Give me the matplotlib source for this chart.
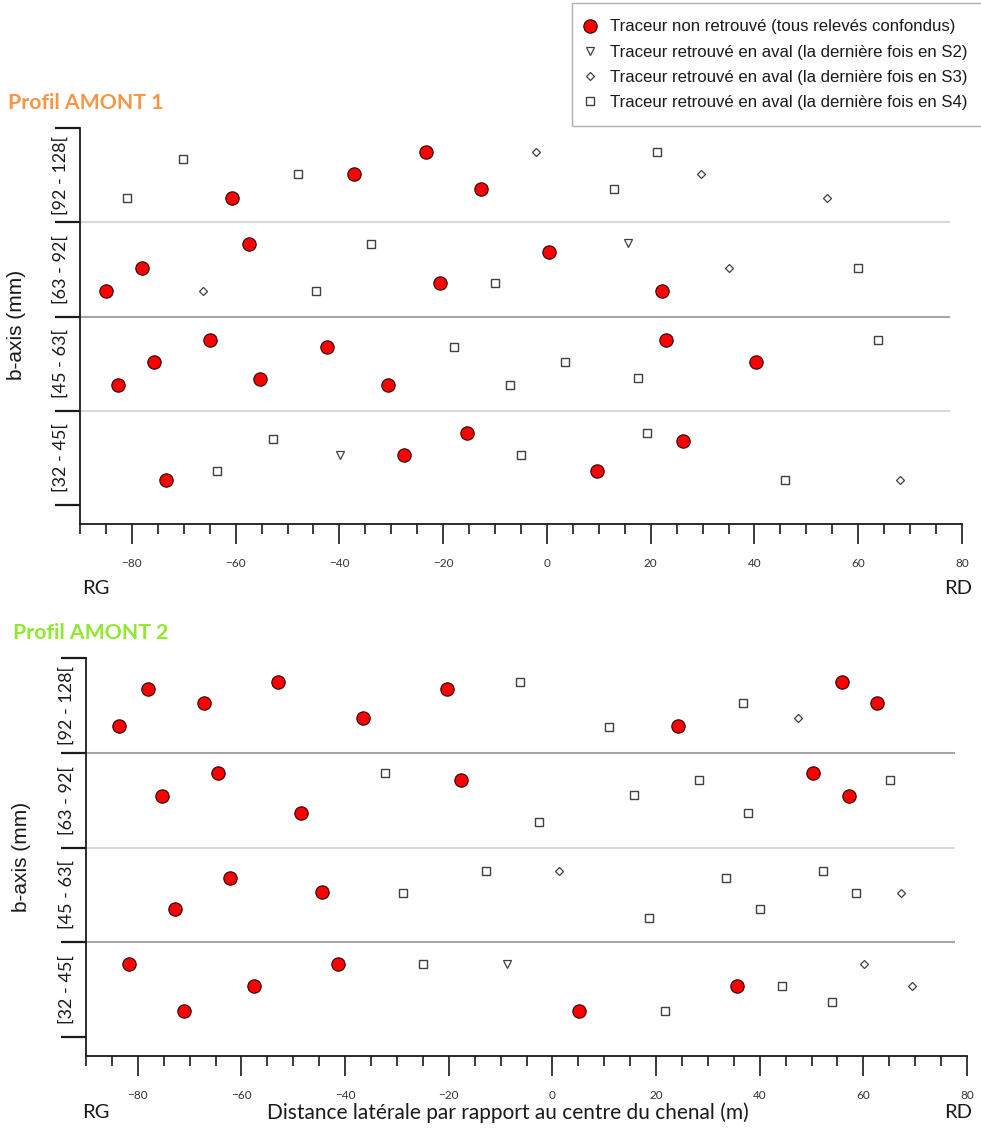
import matplotlib
matplotlib.use("Agg")
import matplotlib.pyplot as plt
from matplotlib.lines import Line2D
from matplotlib.ticker import MultipleLocator, FixedLocator, NullFormatter, FixedFormatter

# ---------------- data ----------------
classes = ["[32 - 45[", "[45 - 63[", "[63 - 92[", "[92 - 128["]
legend_labels = [
    "Traceur non retrouvé (tous relevés confondus)",
    "Traceur retrouvé en aval (la dernière fois en S2)",
    "Traceur retrouvé en aval (la dernière fois en S3)",
    "Traceur retrouvé en aval (la dernière fois en S4)",
]
x_major_ticks = [-80, -60, -40, -20, 0, 20, 40, 60, 80]

# y = class index + relative position inside the class band
# ---- Profil AMONT 1 ----
a1_red_x = [-60.7, -37.2, -23.3, -12.7, -57.4, -78.1, -85.0, 0.4, -20.6, 22.2,
            -65.0, -75.8, -82.7, -55.3, -42.4, -30.7, 22.9, 40.3,
            -73.4, -27.6, -15.4, 9.6, 26.2]
a1_red_y = [3.26, 3.51, 3.75, 3.35, 2.77, 2.52, 2.27, 2.69, 2.36, 2.27,
            1.75, 1.52, 1.27, 1.34, 1.68, 1.27, 1.75, 1.52,
            0.27, 0.53, 0.76, 0.36, 0.68]
a1_s2_x = [15.6, -39.9]
a1_s2_y = [2.78, 0.53]
a1_s3_x = [-2.1, 29.7, 54.0, -66.3, 35.1, 68.0]
a1_s3_y = [3.75, 3.51, 3.26, 2.27, 2.52, 0.27]
a1_s4_x = [-70.2, -81.0, -48.0, 21.2, 12.9, -33.9, -44.5, -10.0, 60.0,
           -17.9, 3.5, -7.1, 17.5, 63.8, -52.8, -63.6, -5.0, 19.3, 45.9]
a1_s4_y = [3.67, 3.26, 3.51, 3.75, 3.35, 2.77, 2.27, 2.36, 2.52,
           1.68, 1.52, 1.27, 1.35, 1.75, 0.70, 0.36, 0.53, 0.76, 0.27]

# ---- Profil AMONT 2 ----
a2_red_x = [-83.7, -78.1, -67.2, -52.9, -36.5, -20.3, 24.2, 55.8, 62.6,
            -75.4, -64.5, -48.5, -17.6, 50.2, 57.2,
            -62.2, -72.9, -44.4,
            -81.7, -71.1, -57.6, -41.4, 5.2, 35.7]
a2_red_y = [3.28, 3.67, 3.52, 3.75, 3.37, 3.67, 3.28, 3.75, 3.52,
            2.54, 2.79, 2.36, 2.71, 2.79, 2.54,
            1.68, 1.35, 1.53,
            0.77, 0.28, 0.54, 0.77, 0.28, 0.54]
a2_s2_x = [-8.7]
a2_s2_y = [0.77]
a2_s3_x = [47.3, 1.2, 67.2, 60.1, 69.4]
a2_s3_y = [3.37, 1.75, 1.52, 0.77, 0.54]
a2_s4_x = [-6.2, 11.0, 36.7, -32.3, 15.7, -2.5, 28.2, 65.1, 37.7,
           -12.9, -28.8, 18.6, 33.4, 52.2, 58.6, 40.0,
           -24.9, 21.8, 44.3, 53.9]
a2_s4_y = [3.75, 3.27, 3.52, 2.79, 2.55, 2.27, 2.71, 2.71, 2.36,
           1.75, 1.52, 1.26, 1.68, 1.75, 1.52, 1.35,
           0.77, 0.28, 0.54, 0.37]

# ---------------- styles ----------------
W, H = 981, 1135
FONT_C = "Lato"
FONT_A = "Liberation Sans"
EDGE = "#404040"
styles = [
    dict(marker="o", ms=9.6, mfc="#FF0000", mec="#2b0000", mew=0.8, ls="none"),
    dict(marker="v", ms=5.8, mfc="white", mec=EDGE, mew=0.9, ls="none"),
    dict(marker="D", ms=4.3, mfc="white", mec=EDGE, mew=0.9, ls="none"),
    dict(marker="s", ms=5.6, mfc="white", mec=EDGE, mew=1.0, ls="none"),
]


def fx(px):
    return px / W


def fy(py):
    return 1 - py / H


fig = plt.figure(figsize=(W / 100, H / 100), dpi=100)


def make_panel(rect, series, line_colors):
    ax = fig.add_axes(rect)
    for (xs, ys), st in zip(series, styles):
        ax.plot(xs, ys, zorder=3, clip_on=False, **st)
    ax.set_xlim(-90, 80)
    ax.set_ylim(-0.2, 4.0)
    for yb, c in zip([1, 2, 3], line_colors):
        ax.hlines(yb, -90, 77.7, colors=c, lw=1.5, zorder=1)
    for s in ["top", "right"]:
        ax.spines[s].set_visible(False)
    for s in ["left", "bottom"]:
        ax.spines[s].set_linewidth(1.3)
        ax.spines[s].set_color("#1a1a1a")
    # x axis
    ax.xaxis.set_major_locator(FixedLocator(x_major_ticks))
    ax.xaxis.set_minor_locator(MultipleLocator(5))
    ax.tick_params(axis="x", which="major", length=14.5, width=1.2, color="#1a1a1a",
                   labelsize=8.5, labelcolor="#333333", pad=10)
    ax.tick_params(axis="x", which="minor", length=7, width=1.2, color="#1a1a1a")
    for lab in ax.get_xticklabels():
        lab.set_fontfamily(FONT_C)
    # y axis: boundaries as major ticks, class names as minor labels
    ax.yaxis.set_major_locator(FixedLocator([0, 1, 2, 3, 4]))
    ax.yaxis.set_major_formatter(NullFormatter())
    ax.yaxis.set_minor_locator(FixedLocator([0.5, 1.5, 2.5, 3.5]))
    ax.yaxis.set_minor_formatter(FixedFormatter(classes))
    ax.tick_params(axis="y", which="major", length=18, width=1.6, color="#1a1a1a")
    ax.tick_params(axis="y", which="minor", length=0, pad=8, labelsize=13,
                   labelcolor="#1a1a1a")
    for lab in ax.yaxis.get_minorticklabels():
        lab.set_rotation(90)
        lab.set_fontfamily(FONT_C)
        lab.set_va("center")
        lab.set_ha("right")
    return ax


ax1 = make_panel([fx(80), fy(524), (962 - 80) / W, (524 - 128) / H],
                 [(a1_red_x, a1_red_y), (a1_s2_x, a1_s2_y),
                  (a1_s3_x, a1_s3_y), (a1_s4_x, a1_s4_y)],
                 ["#d9d9d9", "#a6a6a6", "#d9d9d9"])
ax2 = make_panel([fx(86), fy(1056), (967 - 86) / W, (1056 - 658) / H],
                 [(a2_red_x, a2_red_y), (a2_s2_x, a2_s2_y),
                  (a2_s3_x, a2_s3_y), (a2_s4_x, a2_s4_y)],
                 ["#a6a6a6", "#d9d9d9", "#a6a6a6"])

# titles
fig.text(fx(8), fy(103), "Profil AMONT 1", color="#F79646", fontsize=15.3,
         fontweight="bold", family=FONT_C, va="center", ha="left")
fig.text(fx(13), fy(633), "Profil AMONT 2", color="#8EEA2E", fontsize=15.3,
         fontweight="bold", family=FONT_C, va="center", ha="left")

# y labels
fig.text(fx(17), fy(325), "b-axis (mm)", rotation=90, fontsize=15, family=FONT_A,
         va="center", ha="center", color="#1a1a1a")
fig.text(fx(22), fy(857), "b-axis (mm)", rotation=90, fontsize=15, family=FONT_A,
         va="center", ha="center", color="#1a1a1a")

# RG / RD
for yy in (588, 1113):
    fig.text(fx(82), fy(yy), "RG", fontsize=14.5, family=FONT_C, va="center", ha="left",
             color="#1a1a1a")
    fig.text(fx(972), fy(yy), "RD", fontsize=14.5, family=FONT_C, va="center", ha="right",
             color="#1a1a1a")
fig.text(fx(508), fy(1113), "Distance latérale par rapport au centre du chenal (m)",
         fontsize=15, family=FONT_C, va="center", ha="center", color="#1a1a1a")

# legend
handles = [Line2D([], [], **st) for st in styles]
leg = fig.legend(handles, legend_labels, loc="upper left",
                 bbox_to_anchor=(fx(572), fy(3)), borderaxespad=0,
                 frameon=True, fancybox=False, edgecolor="#9a9a9a",
                 handlelength=0.2, handletextpad=1.1,
                 labelspacing=0.6, borderpad=0.98,
                 prop={"family": FONT_A, "size": 12.1})
leg.get_frame().set_linewidth(1.0)
for t in leg.get_texts():
    t.set_color("#1a1a1a")

fig.savefig("out.png", dpi=100)
